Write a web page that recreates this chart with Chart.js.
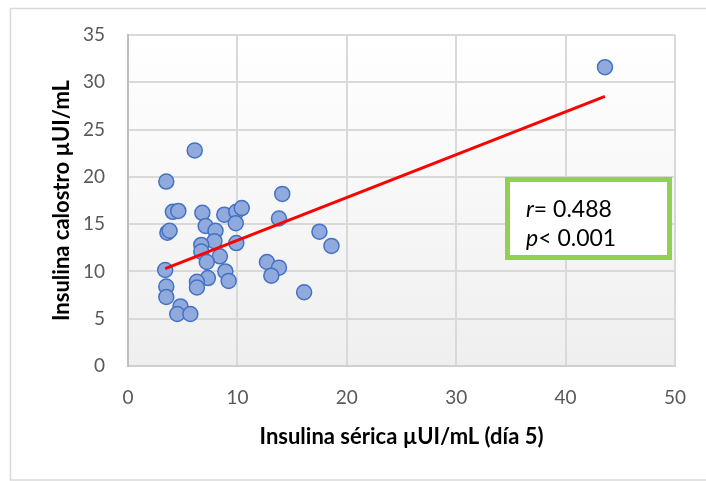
<!DOCTYPE html>
<html>
<head>
<meta charset="utf-8">
<script src="https://cdn.jsdelivr.net/npm/chart.js@4.4.1/dist/chart.umd.min.js"></script>
<style>
  html, body { margin: 0; padding: 0; background: #fff; }
  #wrap { width: 706px; height: 481px; position: relative; }
</style>
</head>
<body>
<div id="wrap"><canvas id="scatter"></canvas></div>
<script>
// serum insulin (day 5) vs colostrum insulin
const seroX = [6.1, 3.5, 4.1, 4.6, 6.8, 8.8, 9.9, 10.4, 9.85, 7.1, 8.0, 3.6, 3.8, 7.9, 6.7, 9.9,
  6.7, 8.4, 7.2, 3.4, 8.9, 9.2, 7.3, 6.3, 6.3, 3.5, 3.5, 4.8, 4.5, 5.7,
  14.1, 13.8, 17.5, 18.6, 12.7, 13.8, 13.1, 16.1, 43.6];
const calostroY = [22.8, 19.5, 16.3, 16.4, 16.2, 16.0, 16.3, 16.7, 15.1, 14.8, 14.3, 14.1, 14.3, 13.2, 12.8, 13.0,
  12.1, 11.6, 11.0, 10.15, 10.0, 9.0, 9.3, 8.9, 8.3, 8.4, 7.3, 6.3, 5.5, 5.5,
  18.2, 15.6, 14.2, 12.7, 11.0, 10.4, 9.55, 7.8, 31.6];

// linear trend line as drawn in the picture (start, end)
const trendX = [3.4, 43.6];
const trendY = [10.3, 28.5];

const xTicks = [0, 10, 20, 30, 40, 50];
const yTicks = [0, 5, 10, 15, 20, 25, 30, 35];

const statLines = [['r', '= 0.488'], ['p', '< 0.001']];

const FONT = 'Lato, "Open Sans", sans-serif';

const points = seroX.map((x, i) => ({ x: x, y: calostroY[i] }));
const trend = trendX.map((x, i) => ({ x: x, y: trendY[i] }));

// frame, plot background gradient and stats box
const decorPlugin = {
  id: 'decor',
  beforeDraw(chart) {
    const c = chart.ctx;
    const a = chart.chartArea;
    c.save();
    c.strokeStyle = '#d9d9d9';
    c.lineWidth = 1.5;
    c.strokeRect(10.5, 8.5, 720, 471.5);
    const g = c.createLinearGradient(0, a.top, 0, a.bottom);
    g.addColorStop(0, '#ffffff');
    g.addColorStop(1, '#efefef');
    c.fillStyle = g;
    c.fillRect(a.left, a.top, a.right - a.left, a.bottom - a.top);
    c.restore();
  },
  afterDraw(chart) {
    const c = chart.ctx;
    c.save();
    c.fillStyle = '#ffffff';
    c.fillRect(507, 180, 163, 78);
    c.strokeStyle = '#92d050';
    c.lineWidth = 5;
    c.strokeRect(507.5, 179.5, 162, 78);
    c.fillStyle = '#000';
    c.textBaseline = 'middle';
    statLines.forEach((ln, i) => {
      const y = 210 + i * 29;
      c.font = 'italic 23px ' + FONT;
      c.fillText(ln[0], 526, y);
      const w = c.measureText(ln[0]).width;
      c.font = '23px ' + FONT;
      c.fillText(ln[1], 526 + w, y);
    });
    c.restore();
  }
};

const ctx = document.getElementById('scatter').getContext('2d');
new Chart(ctx, {
  type: 'scatter',
  data: {
    datasets: [
      {
        type: 'line',
        label: 'Tendencia',
        data: trend,
        borderColor: '#ff0000',
        borderWidth: 3,
        pointRadius: 0,
        fill: false
      },
      {
        label: 'Insulina',
        data: points,
        backgroundColor: '#91aadd',
        borderColor: '#4472c4',
        borderWidth: 1.5,
        pointRadius: 7.5,
        pointHoverRadius: 7.5
      }
    ]
  },
  options: {
    responsive: true,
    maintainAspectRatio: false,
    animation: false,
    layout: { padding: { left: 20, right: 30, top: 35, bottom: 0 } },
    plugins: {
      legend: { display: false },
      tooltip: { enabled: false }
    },
    scales: {
      x: {
        type: 'linear',
        min: 0,
        max: 50,
        afterBuildTicks: s => { s.ticks = xTicks.map(v => ({ value: v })); },
        afterFit: s => { s.height = 115; },
        grid: { color: '#d9d9d9', lineWidth: 2, drawTicks: false },
        border: { color: '#d0d0d0', width: 2 },
        ticks: { color: '#595959', font: { family: FONT, size: 19 }, padding: 20 },
        title: {
          display: true,
          text: 'Insulina sérica µUI/mL (día 5)',
          color: '#000',
          font: { family: FONT, size: 22, weight: 'bold' },
          padding: { top: 0, bottom: 31 }
        }
      },
      y: {
        type: 'linear',
        min: 0,
        max: 35,
        afterBuildTicks: s => { s.ticks = yTicks.map(v => ({ value: v })); },
        afterFit: s => { s.width = 108; },
        grid: { color: '#d9d9d9', lineWidth: 2, drawTicks: false },
        border: { color: '#bfbfbf', width: 2 },
        ticks: { color: '#595959', font: { family: FONT, size: 19 }, padding: 23 },
        title: {
          display: true,
          text: 'Insulina calostro µUI/mL',
          color: '#000',
          font: { family: FONT, size: 22, weight: 'bold' },
          padding: { top: 29, bottom: 0 }
        }
      }
    }
  },
  plugins: [decorPlugin]
});
</script>
</body>
</html>
